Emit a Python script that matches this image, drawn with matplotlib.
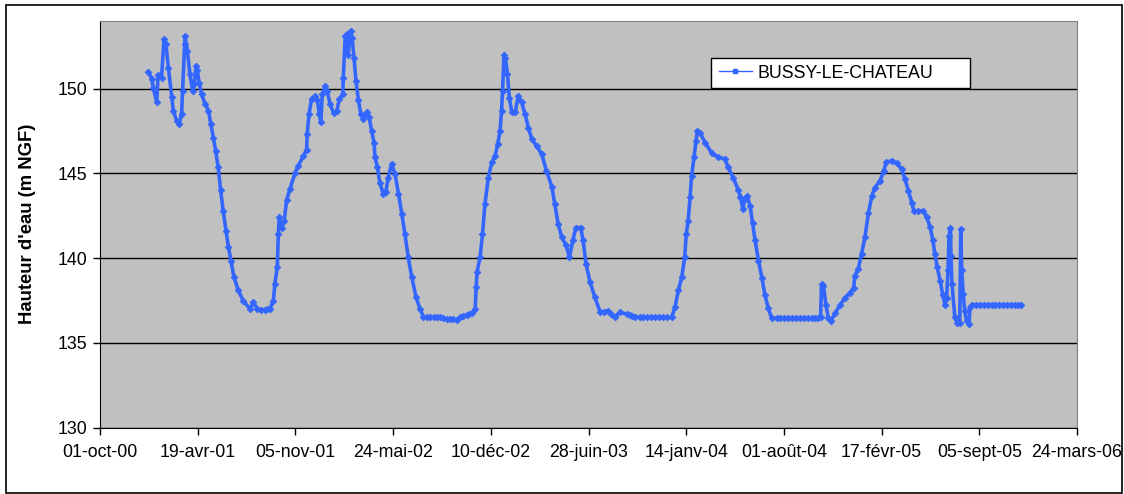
import datetime as dt
import matplotlib
matplotlib.use('Agg')
import matplotlib.pyplot as plt
from matplotlib.patches import Rectangle

plt.rcParams['font.family'] = ['Liberation Sans', 'DejaVu Sans']

# jours depuis le 01-oct-00 et hauteur d'eau (m NGF)
jours = [
    99, 106, 109, 116, 119, 126, 131, 135, 140, 147,
    150, 157, 162, 167, 169, 173, 174, 179, 184, 190,
    193, 197, 199, 203, 208, 215, 222, 227, 232, 237,
    242, 247, 252, 258, 263, 268, 274, 283, 293, 307,
    314, 322, 330, 337, 342, 348, 355, 358, 363, 365,
    367, 372, 377, 382, 389, 399, 406, 416, 423, 424,
    428, 433, 440, 445, 449, 452, 455, 461, 465, 471,
    478, 485, 490, 497, 498, 502, 505, 508, 513, 516,
    520, 524, 529, 534, 539, 546, 551, 556, 561, 563,
    568, 573, 580, 585, 590, 597, 604, 611, 618, 624,
    631, 638, 647, 655, 662, 669, 676, 683, 690, 696,
    703, 710, 716, 723, 730, 737, 744, 751, 756, 761,
    768, 770, 772, 778, 783, 788, 795, 802, 809, 814,
    819, 822, 824, 827, 830, 834, 838, 843, 850, 856,
    863, 870, 877, 884, 894, 904, 914, 925, 931, 938,
    945, 954, 961, 968, 974, 984, 989, 995, 1003, 1013,
    1024, 1031, 1040, 1047, 1054, 1064, 1078, 1085, 1090, 1095,
    1105, 1112, 1120, 1128, 1136, 1144, 1152, 1160, 1170, 1177,
    1184, 1191, 1197, 1200, 1204, 1208, 1211, 1216, 1220, 1223,
    1228, 1239, 1252, 1266, 1279, 1286, 1296, 1307, 1311, 1316,
    1320, 1325, 1331, 1336, 1341, 1348, 1355, 1361, 1368, 1375,
    1385, 1393, 1401, 1409, 1417, 1425, 1433, 1441, 1449, 1457,
    1464, 1470, 1475, 1477, 1481, 1486, 1491, 1496, 1505, 1515,
    1525, 1535, 1543, 1545, 1552, 1559, 1566, 1573, 1580, 1586,
    1597, 1604, 1610, 1621, 1631, 1641, 1648, 1655, 1662, 1666,
    1675, 1685, 1692, 1699, 1705, 1709, 1714, 1720, 1725, 1730,
    1733, 1736, 1738, 1741, 1742, 1744, 1750, 1755, 1760, 1762,
    1764, 1767, 1770, 1774, 1779, 1781, 1785, 1793, 1801, 1809,
    1817, 1825, 1833, 1841, 1849, 1857, 1865, 1873, 1879, 1885,
]
niveaux = [
    151.0, 150.55, 150.05, 149.2, 150.8, 150.65, 152.9, 152.6, 151.2, 149.5,
    148.7, 148.1, 147.9, 148.5, 149.85, 152.6, 153.1, 152.2, 150.85, 149.85,
    150.25, 151.35, 151.1, 150.35, 149.65, 149.1, 148.7, 147.9, 147.1, 146.3,
    145.35, 144.0, 142.8, 141.6, 140.65, 139.85, 138.9, 138.1, 137.5, 137.0,
    137.4, 137.0, 136.95, 136.95, 137.0, 137.0, 137.5, 138.5, 139.5, 141.4,
    142.4, 141.8, 142.2, 143.4, 144.1, 145.0, 145.45, 146.0, 146.4, 147.3,
    148.5, 149.4, 149.55, 149.3, 148.5, 148.0, 149.65, 150.15, 149.85, 149.1,
    148.55, 148.7, 149.4, 149.65, 150.65, 153.1, 153.2, 152.0, 153.4, 153.0,
    151.8, 150.45, 149.3, 148.5, 148.2, 148.6, 148.3, 147.5, 146.8, 145.95,
    145.35, 144.4, 143.8, 143.9, 144.75, 145.55, 144.95, 143.8, 142.6, 141.45,
    140.05, 138.9, 137.7, 137.0, 136.55, 136.5, 136.5, 136.5, 136.5, 136.5,
    136.45, 136.4, 136.4, 136.4, 136.35, 136.5, 136.6, 136.65, 136.7, 136.75,
    137.0, 138.3, 139.2, 140.05, 141.4, 143.2, 144.75, 145.65, 146.05, 146.7,
    147.5, 148.7, 149.85, 152.0, 151.8, 150.85, 149.45, 148.6, 148.6, 149.55,
    149.2, 148.5, 147.7, 147.0, 146.6, 146.15, 145.15, 144.2, 143.2, 142.0,
    141.25, 140.75, 140.05, 141.05, 141.8, 141.8, 141.05, 139.65, 138.6, 137.7,
    136.8, 136.85, 136.9, 136.7, 136.55, 136.8, 136.7, 136.65, 136.6, 136.55,
    136.5, 136.5, 136.5, 136.5, 136.5, 136.5, 136.5, 136.5, 136.5, 137.1,
    138.1, 138.9, 140.05, 141.4, 142.2, 143.6, 144.85, 145.95, 146.9, 147.5,
    147.4, 146.8, 146.2, 145.95, 145.85, 145.35, 144.75, 144.0, 143.6, 142.9,
    143.5, 143.65, 143.05, 142.05, 141.05, 139.85, 138.85, 137.85, 137.05, 136.45,
    136.45, 136.45, 136.45, 136.45, 136.45, 136.45, 136.45, 136.45, 136.45, 136.45,
    136.45, 136.45, 136.5, 138.45, 138.35, 137.25, 136.45, 136.3, 136.75, 137.25,
    137.65, 137.95, 138.25, 138.95, 139.35, 140.25, 141.25, 142.65, 143.65, 144.15,
    144.55, 145.15, 145.65, 145.75, 145.6, 145.25, 144.65, 143.95, 143.25, 142.8,
    142.75, 142.8, 142.45, 141.85, 141.05, 140.25, 139.45, 138.65, 137.85, 137.25,
    137.65, 139.3, 141.3, 141.8, 140.1, 138.5, 136.5, 136.15, 136.15, 141.7,
    139.3, 137.9, 136.9, 136.3, 136.1, 137.1, 137.25, 137.25, 137.25, 137.25,
    137.25, 137.25, 137.25, 137.25, 137.25, 137.25, 137.25, 137.25, 137.25, 137.25,
]

station = 'BUSSY-LE-CHATEAU'
etiquettes_x = ['01-oct-00', '19-avr-01', '05-nov-01', '24-mai-02', '10-déc-02',
                '28-juin-03', '14-janv-04', '01-août-04', '17-févr-05',
                '05-sept-05', '24-mars-06']
graduations_y = [130, 135, 140, 145, 150]

debut = dt.date(2000, 10, 1)
dates = [debut + dt.timedelta(days=j) for j in jours]
ticks_x = [debut + dt.timedelta(days=200 * k) for k in range(len(etiquettes_x))]

W, H = 1124, 494
fig = plt.figure(figsize=(W / 100, H / 100), dpi=100)
ax = fig.add_axes([100 / W, 1 - 427.7 / H, 977 / W, 407 / H])
ax.set_facecolor('#C0C0C0')

# trait épais pour rendre l'aspect des mesures journalières serrées
ax.plot(dates, niveaux, color='#3366FF', lw=2.6, marker='D', ms=3.4, mew=0.6,
        solid_joinstyle='round', zorder=3)
# élément de légende (trait fin)
ax.plot([], [], color='#3366FF', lw=1, marker='s', ms=3, label=station)

ax.set_xlim(ticks_x[0], ticks_x[-1])
ax.set_ylim(130, 154)
ax.set_xticks(ticks_x)
ax.set_xticklabels(etiquettes_x)
ax.set_yticks(graduations_y)
ax.grid(axis='y', color='black', lw=1)
ax.grid(axis='x', visible=False)
ax.set_axisbelow(True)

for s in ['top', 'right']:
    ax.spines[s].set_color('#808080')
for s in ['left', 'bottom']:
    ax.spines[s].set_color('black')
ax.tick_params(axis='both', direction='out', length=5, width=1, labelsize=12.8)
ax.tick_params(axis='y', pad=4)
ax.tick_params(axis='x', pad=7)

ax.set_ylabel("Hauteur d'eau (m NGF)", fontsize=13.3, fontweight='bold')
ax.yaxis.set_label_coords((36 - 100) / 977, 0.5)

# cadre de la légende
ax.add_patch(Rectangle((711 / W, 1 - 88 / H), 259 / W, 30 / H, transform=fig.transFigure,
                       facecolor='white', edgecolor='black', lw=1, zorder=4, clip_on=False))
leg = ax.legend(loc='center left', bbox_to_anchor=(719 / W, 1 - 73 / H),
                bbox_transform=fig.transFigure, frameon=False, fontsize=12.8,
                handlelength=1.85, handletextpad=0.3, borderpad=0, borderaxespad=0)
leg.set_zorder(5)

# cadre autour de la figure
fig.patches.append(Rectangle((6 / W, 1 / H), 1116 / W, 488 / H, transform=fig.transFigure,
                             fill=False, edgecolor='black', lw=1.2))

fig.savefig('out.png', dpi=100)
